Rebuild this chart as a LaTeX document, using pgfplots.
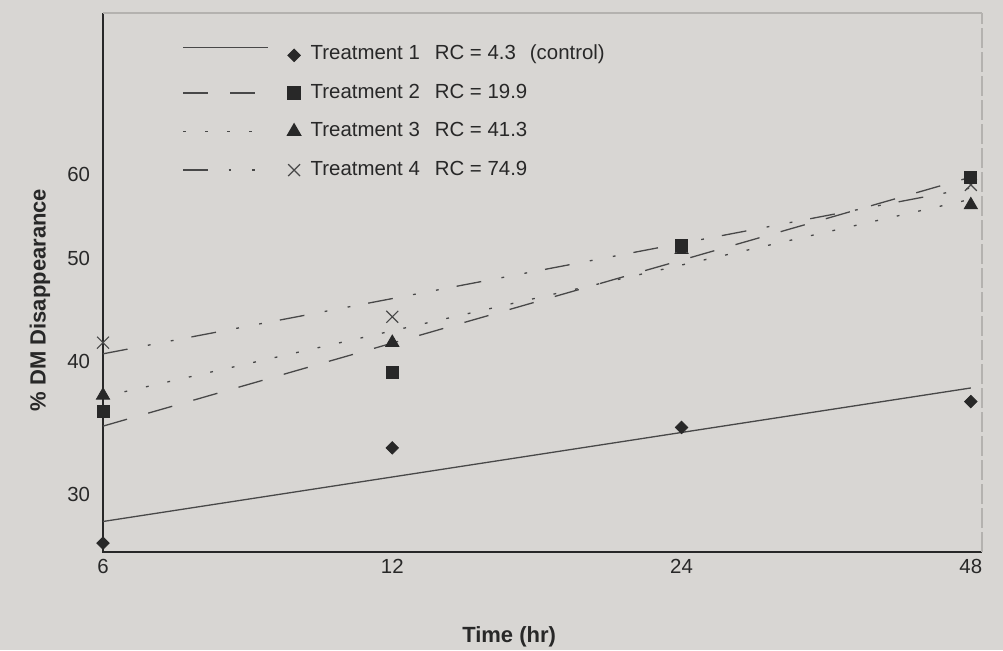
\documentclass[border=0pt]{standalone}
\usepackage{fontspec}
\setmainfont{Liberation Sans}
\usepackage{pgfplots}
\pgfplotsset{compat=1.18}
\definecolor{bg}{RGB}{216,214,211}
\definecolor{ink}{RGB}{40,40,40}
\definecolor{ln}{RGB}{72,72,72}
\definecolor{frame}{RGB}{180,178,175}
\pgfplotsset{
  legraised/.style={legend image code/.code={
    \draw[##1,mark=none] (0pt,3.5pt) -- (42.5pt,3.5pt);
    \draw[##1,solid] plot coordinates {(55.5pt,-0.5pt)};
  }},
}
\begin{document}
\begin{tikzpicture}
\path[use as bounding box, fill=bg] (-51.5pt,-49pt) rectangle (450pt,276pt);
\begin{axis}[
  at={(0pt,0pt)}, anchor=south west, scale only axis,
  width=439.5pt, height=269.5pt,
  xmode=log, log basis x=2, ymode=log,
  xmin=6, xmax=49.3, ymin=26.49, ymax=85.2,
  xtick={6,12,24,48}, xticklabels={6,12,24,48},
  ytick={30,40,50,60}, yticklabels={30,40,50,60},
  xminorticks=false, yminorticks=false,
  major tick length=0pt,
  axis line style={draw=none},
  clip=false,
  ticklabel style={font=\fontsize{10.2}{12}\selectfont, text=ink},
  yticklabel style={xshift=-3pt},
  xlabel={Time (hr)}, ylabel={\% DM Disappearance},
  label style={font=\bfseries\fontsize{11}{13}\selectfont, text=ink},
  xlabel style={at={(axis description cs:0.462,-0.158)}, anchor=center},
  ylabel style={at={(axis description cs:-0.0717,0.4675)}, anchor=center},
  legend style={at={(axis description cs:0.0899,0.9415)}, anchor=north west,
    draw=none, fill=none, inner sep=0pt, row sep=9.9pt,
    font=\fontsize{10.2}{12}\selectfont,
    nodes={inner sep=0pt, text height=7.4pt, text depth=2pt, text=ink},
    /tikz/every odd column/.append style={column sep=5pt}},
  legend cell align=left,
  legend image code/.code={
    \draw[#1,mark=none] (0pt,0pt) -- (42.5pt,0pt);
    \draw[#1,solid] plot coordinates {(55.5pt,0pt)};
  },
]
% frame
\draw[ink, line width=0.7pt] (rel axis cs:0,1) -- (rel axis cs:0,0) -- (rel axis cs:1,0);
\draw[frame, line width=0.6pt] (rel axis cs:0,1) -- (rel axis cs:1,1);
\draw[frame, line width=0.6pt, dash pattern=on 10pt off 2pt] (rel axis cs:1,0) -- (rel axis cs:1,1);

% legend entries
\addlegendimage{ln, line width=0.65pt, mark=square*, mark size=2.1pt, mark options={solid, rotate=45, draw=ink, fill=ink}, legraised}
\addlegendentry{Treatment 1\hspace{7.5pt}RC = 4.3\hspace{7pt}(control)}
\addlegendimage{ln, line width=0.65pt, dash pattern=on 12.5pt off 11pt, mark=square*, mark size=3pt, mark options={solid, draw=ink, fill=ink}}
\addlegendentry{Treatment 2\hspace{7.5pt}RC = 19.9}
\addlegendimage{ln, line width=0.65pt, dash pattern=on 1.4pt off 9.6pt, mark=triangle*, mark size=3.8pt, mark options={solid, draw=ink, fill=ink}}
\addlegendentry{Treatment 3\hspace{7.5pt}RC = 41.3}
\addlegendimage{ln, line width=0.65pt, dash pattern=on 12.5pt off 10.3pt on 1.4pt off 10.3pt on 1.4pt off 9.1pt, mark=x, mark size=4.2pt, mark options={solid, draw=ln, line width=0.6pt}}
\addlegendentry{Treatment 4\hspace{7.5pt}RC = 74.9}

% fitted lines
\addplot[ln, line width=0.65pt, forget plot] coordinates {(6,28.3) (48,37.8)};
\addplot[ln, line width=0.65pt, dash pattern=on 12.5pt off 11pt, forget plot] coordinates {(6,34.8) (48,59.7)};
\addplot[ln, line width=0.65pt, dash pattern=on 1.4pt off 9.6pt, forget plot] coordinates {(6,37.1) (48,56.9)};
\addplot[ln, line width=0.65pt, dash pattern=on 12.5pt off 10.3pt on 1.4pt off 10.3pt on 1.4pt off 9.1pt, forget plot] coordinates {(6,40.7) (48,58.3)};

% observed points
\addplot[only marks, mark=square*, mark size=2.2pt, mark options={rotate=45}, draw=ink, fill=ink, forget plot] coordinates {(6,27.0) (12,33.2) (24,34.7) (48,36.7)};
\addplot[only marks, mark=triangle*, mark size=3.8pt, draw=ink, fill=ink, forget plot] coordinates {(6,37.2) (12,41.7) (24,51.0) (48,56.2)};
\addplot[only marks, mark=x, mark size=4.2pt, draw=ln, line width=0.6pt, forget plot] coordinates {(6,41.7) (12,44.1) (24,51.3) (48,58.7)};
\addplot[only marks, mark=square*, mark size=3pt, draw=ink, fill=ink, forget plot] coordinates {(6,35.9) (12,39.1) (24,51.5) (48,59.7)};
\end{axis}
\end{tikzpicture}
\end{document}
